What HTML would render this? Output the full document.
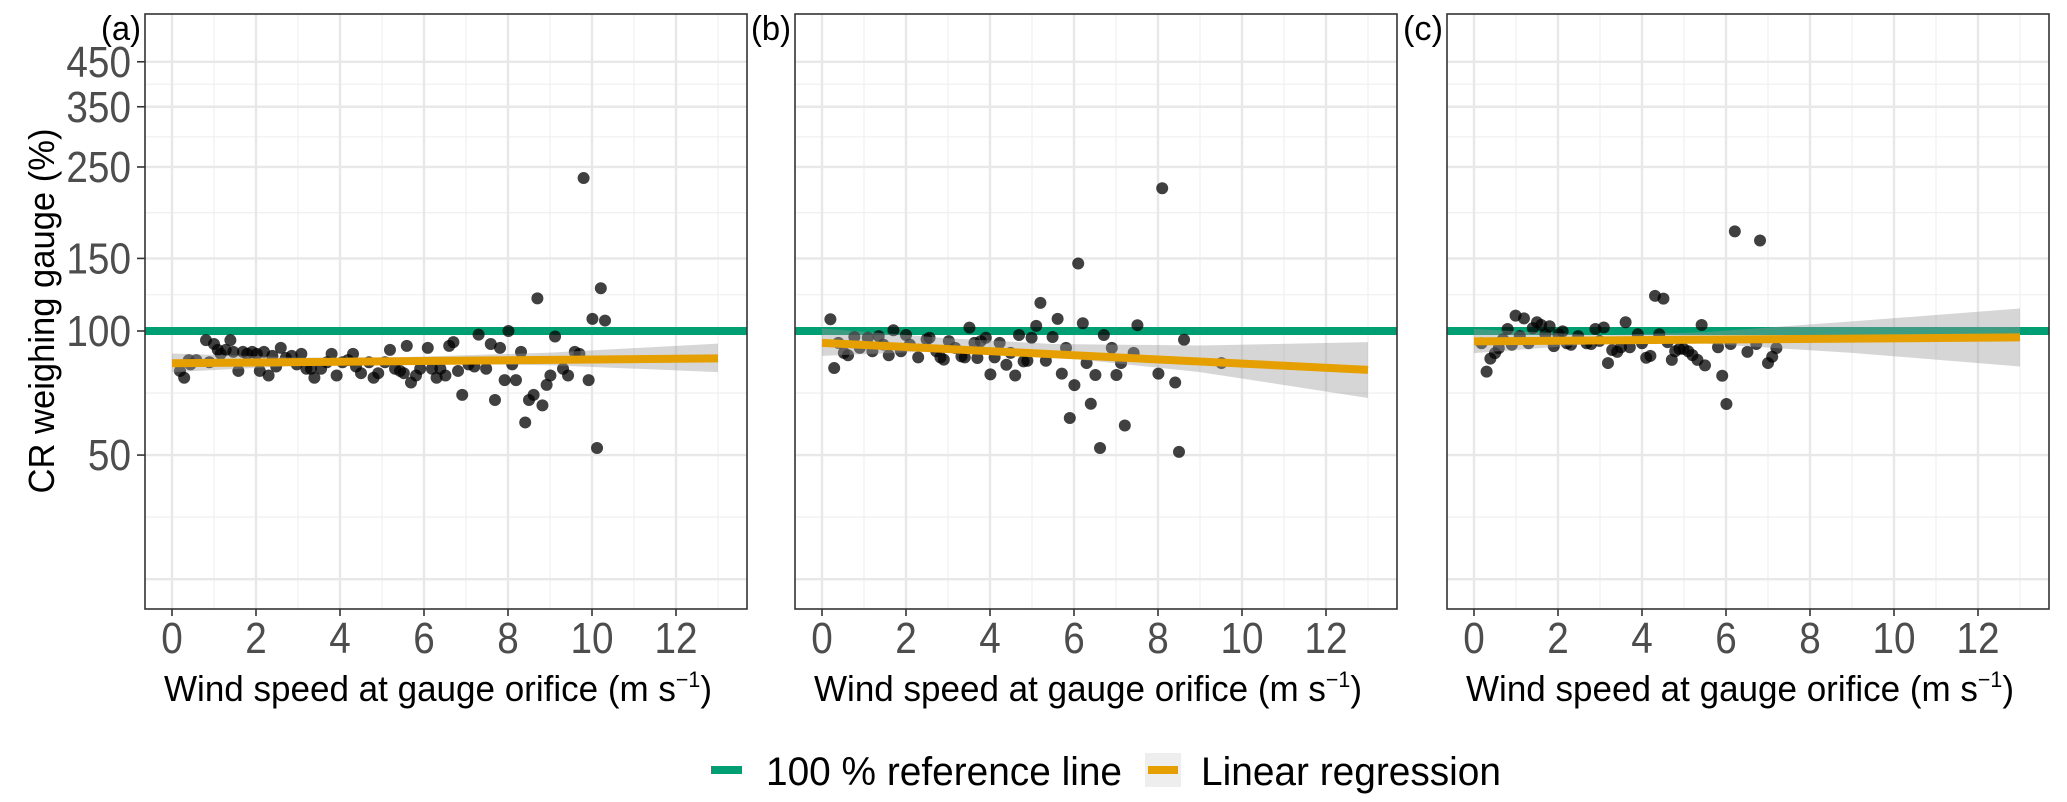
<!DOCTYPE html>
<html><head><meta charset="utf-8"><style>
html,body{margin:0;padding:0;background:#fff}
svg{display:block;font-family:"Liberation Sans",Arial,sans-serif}
</style></head><body>
<svg id="chart" width="2067" height="802" viewBox="0 0 2067 802" xmlns="http://www.w3.org/2000/svg"></svg>
<script>
// ---- data ----
const yTicks = [50, 100, 150, 250, 350, 450];
const yMajorExtra = [25];
const yMinor = [35.36, 70.71, 122.47, 193.65, 295.8, 396.86];
const xTicks = [0, 2, 4, 6, 8, 10, 12];
const xMinor = [1, 3, 5, 7, 9, 11, 13];
const panelLabels = ["(a)", "(b)", "(c)"];

const windA = [0.19,0.29,0.40,0.44,0.58,0.81,0.89,1.0,1.09,1.16,1.28,1.39,1.46,1.58,1.69,1.79,1.91,2.02,2.09,2.19,2.30,2.39,2.48,2.59,2.71,2.85,2.97,3.08,3.20,3.31,3.39,3.55,3.69,3.80,3.92,4.06,4.19,4.31,4.38,4.50,4.69,4.80,4.91,5.07,5.19,5.31,5.43,5.52,5.59,5.69,5.81,5.91,6.09,6.19,6.30,6.39,6.51,6.60,6.70,6.81,6.91,7.06,7.20,7.30,7.48,7.59,7.69,7.81,7.92,8.01,8.10,8.19,8.31,8.41,8.50,8.61,8.70,8.82,8.92,9.01,9.12,9.31,9.43,9.59,9.70,9.8,9.92,10.01,10.12,10.21,10.31];
const crA = [80,77,85,83,85,95,84,93,90,88,90,95,89,80,89,88,89,88,80,89,78,87,82,91,86,87,83,88,81,81,77,81,84,88,78,84,85,88,82,79,84,77,79,84,90,81,80,79,92,75,78,81,91,81,77,81,78,92,94,80,70,83,82,98,81,93,68,91,76,100,83,76,89,60,68,70,120,66,74,78,97,81,78,89,88,235,76,107,52,127,106];

const windB = [0.20,0.29,0.39,0.52,0.62,0.77,0.90,1.09,1.20,1.35,1.46,1.59,1.70,1.88,2.00,2.09,2.29,2.49,2.56,2.72,2.82,2.90,3.02,3.17,3.32,3.40,3.51,3.63,3.70,3.78,3.90,4.01,4.11,4.23,4.39,4.49,4.60,4.69,4.80,4.89,4.99,5.10,5.20,5.33,5.49,5.61,5.71,5.81,5.90,6.01,6.10,6.21,6.30,6.40,6.51,6.62,6.71,6.90,7.01,7.12,7.21,7.42,7.51,8.01,8.10,8.41,8.50,8.62,9.51];
const crB = [106.8,81.3,93.6,88.5,87.3,96.7,91.0,96.3,89.3,97.2,92.7,87.3,100.4,89.3,97.8,92.7,86.3,95.4,96.3,89.3,86.3,85.2,94.5,91.0,86.8,86.3,101.9,93.6,86.0,94.5,96.3,78.5,86.3,93.6,82.8,88.5,78.0,97.8,84.4,84.7,96.3,102.9,117,84.7,96.7,107,78.8,91.0,61.5,73.9,145.8,104.4,83.6,66.6,78.2,52.0,97.8,91.0,78.2,83.6,59.0,88.5,103.3,78.8,222,75.0,50.9,95.2,83.6];

const windC = [0.18,0.30,0.39,0.50,0.59,0.69,0.80,0.90,0.99,1.09,1.19,1.30,1.40,1.50,1.60,1.70,1.80,1.90,2.01,2.11,2.21,2.31,2.48,2.68,2.79,2.89,2.99,3.09,3.19,3.29,3.41,3.50,3.61,3.71,3.90,4.00,4.10,4.20,4.31,4.41,4.51,4.61,4.71,4.79,4.89,4.99,5.10,5.20,5.32,5.42,5.50,5.81,5.91,6.01,6.11,6.21,6.51,6.72,6.81,7.00,7.10,7.20];
const crC = [93.4,79.7,85.7,88.4,90.9,95.5,101.1,92.6,109.0,97.2,107.3,93.4,101.6,105.0,103.4,98.2,102.7,91.9,98.2,99.8,93.4,92.6,97.2,93.4,93.0,101.1,94.6,102.0,83.6,89.9,89.0,91.3,105.0,91.3,98.2,93.4,86.1,87.0,121.7,98.2,119.8,94.0,85.1,89.3,90.5,90.5,89.3,87.4,85.1,103.4,82.5,91.3,77.9,66.5,93.0,174.5,89.0,93.0,165.8,83.6,86.6,90.9];

const fitX = [0, 13];
const fitA = [83.5, 85.8];
const fitB = [93.6, 80.5];
const fitC = [94.4, 96.5];
const bandX = [0, 3, 5.5, 9, 13];
const bandLoA = [79.5, 82.3, 83.4, 82.6, 79.5];
const bandHiA = [88.2, 86.2, 86.4, 88.6, 93.2];
const bandLoB = [87.0, 89.6, 86.6, 79.5, 68.8];
const bandHiB = [101.5, 96.0, 93.0, 92.2, 94.0];
const bandLoC = [88.4, 93.2, 93.2, 88.5, 82.0];
const bandHiC = [101.1, 97.6, 99.4, 105.5, 113.4];

const panelWind = [windA, windB, windC];
const panelCR = [crA, crB, crC];
const panelFit = [fitA, fitB, fitC];
const panelLo = [bandLoA, bandLoB, bandLoC];
const panelHi = [bandHiA, bandHiB, bandHiC];

// ---- layout ----
const NS = "http://www.w3.org/2000/svg";
const svg = document.getElementById("chart");
const lefts = [145, 795, 1447];
const PW = 602, TOP = 14, BOT = 609;
const SX = 0.88;
function xS(p, w) { return lefts[p] + 27 + 42 * w; }
function yS(v) { return 331 + 179 * Math.log(100 / v); }
function mk(tag, attrs, parent) {
  const e = document.createElementNS(NS, tag);
  for (const k in attrs) e.setAttribute(k, attrs[k]);
  (parent || svg).appendChild(e);
  return e;
}
function narrow(x, y, attrs, parent) {
  attrs.x = 0; attrs.y = 0;
  attrs.transform = "translate(" + x + "," + y + ") scale(" + SX + ",1)";
  return mk("text", attrs, parent);
}

for (let p = 0; p < 3; p++) {
  const L = lefts[p], R = L + PW;
  const g = mk("g", {});
  
  
  const cp = mk("clipPath", { id: "clip" + p }, g);
  mk("rect", { x: L, y: TOP, width: PW, height: BOT - TOP }, cp);
  yMinor.forEach(v => {
    const l = mk("line", { x1: L, x2: R, y1: yS(v), y2: yS(v), stroke: "#f0f0f0", "stroke-width": 1.3 }, g);
    
    
  });
  xMinor.forEach(w => {
    const l = mk("line", { x1: xS(p, w), x2: xS(p, w), y1: TOP, y2: BOT, stroke: "#f0f0f0", "stroke-width": 1.3 }, g);
    
    
  });
  yTicks.concat(yMajorExtra).forEach(v => {
    const l = mk("line", { x1: L, x2: R, y1: yS(v), y2: yS(v), stroke: "#e8e8e8", "stroke-width": 2.4 }, g);
    
    
  });
  xTicks.forEach(w => {
    const l = mk("line", { x1: xS(p, w), x2: xS(p, w), y1: TOP, y2: BOT, stroke: "#e8e8e8", "stroke-width": 2.4 }, g);
    
    
  });
  const inner = mk("g", { "clip-path": "url(#clip" + p + ")" }, g);
  const ref = mk("line", { x1: L, x2: R, y1: yS(100), y2: yS(100), stroke: "#009E73", "stroke-width": 8 }, inner);
  
  
  const wind = panelWind[p], cr = panelCR[p];
  for (let i = 0; i < wind.length; i++) {
    const c = mk("circle", { cx: xS(p, wind[i]), cy: yS(cr[i]), r: 6, fill: "#000", "fill-opacity": 0.75 }, inner);
    
    
  }
  const lo = panelLo[p], hi = panelHi[p];
  let d = "";
  bandX.forEach((w, i) => { d += (i ? "L" : "M") + xS(p, w) + "," + yS(hi[i]); });
  for (let i = bandX.length - 1; i >= 0; i--) d += "L" + xS(p, bandX[i]) + "," + yS(lo[i]);
  const band = mk("path", { d: d + "Z", fill: "#999", "fill-opacity": 0.4 }, inner);
  
  
  const fit = panelFit[p];
  const fl = mk("line", { x1: xS(p, fitX[0]), x2: xS(p, fitX[1]), y1: yS(fit[0]), y2: yS(fit[1]), stroke: "#E69F00", "stroke-width": 8 }, inner);
  
  
  const bd = mk("rect", { x: L, y: TOP, width: PW, height: BOT - TOP, fill: "none", stroke: "#333", "stroke-width": 1.6 }, g);
  
  
  xTicks.forEach(w => {
    const t = mk("line", { x1: xS(p, w), x2: xS(p, w), y1: BOT, y2: BOT + 7, stroke: "#333", "stroke-width": 1.6 }, g);
    
    
    const tx = narrow(xS(p, w), 653, { "text-anchor": "middle", "font-size": 44, fill: "#4d4d4d" }, g);
    tx.textContent = w;
    
    
  });
  const xt = mk("text", { x: L + PW / 2 - 8, y: 701, "text-anchor": "middle", "font-size": 36, fill: "#000", textLength: 548, lengthAdjust: "spacingAndGlyphs" }, g);
  
  
  xt.appendChild(document.createTextNode("Wind speed at gauge orifice (m s"));
  const sup = mk("tspan", { dy: -14, "font-size": 22 }, xt);
  sup.textContent = "\u22121";
  const cl = mk("tspan", { dy: 14 }, xt);
  cl.textContent = ")";
  const pl = mk("text", { x: L - 44, y: 40, "font-size": 34, fill: "#000", textLength: 40, lengthAdjust: "spacingAndGlyphs" }, g);
  pl.textContent = panelLabels[p];
  
  
}
yTicks.forEach(v => {
  const t = mk("line", { x1: 137, x2: 145, y1: yS(v), y2: yS(v), stroke: "#333", "stroke-width": 1.6 });
  
  
  const tx = narrow(131, yS(v) + 15, { "text-anchor": "end", "font-size": 44, fill: "#4d4d4d" });
  tx.textContent = v;
  
  
});
const yt = mk("text", { x: 0, y: 0, transform: "translate(54,311) rotate(-90)", "text-anchor": "middle", "font-size": 36, fill: "#000", textLength: 365, lengthAdjust: "spacingAndGlyphs" });
yt.textContent = "CR weighing gauge (%)";


</script>
<svg width="2067" height="802" style="position:absolute;left:0;top:0;font-family:'Liberation Sans',Arial,sans-serif" xmlns="http://www.w3.org/2000/svg">
  <g>
    <rect x="711" y="766" width="31" height="8" fill="#009E73"/>
    <text x="766" y="785" font-size="40" textLength="356" lengthAdjust="spacingAndGlyphs">100 % reference line</text>
  </g>
  <g>
    <rect x="1145" y="753" width="36" height="34" fill="#eeeeee"/>
    <rect x="1148" y="766" width="30" height="8" fill="#E69F00"/>
    <text x="1201" y="785" font-size="40" textLength="300" lengthAdjust="spacingAndGlyphs">Linear regression</text>
  </g>
</svg>
</body></html>
